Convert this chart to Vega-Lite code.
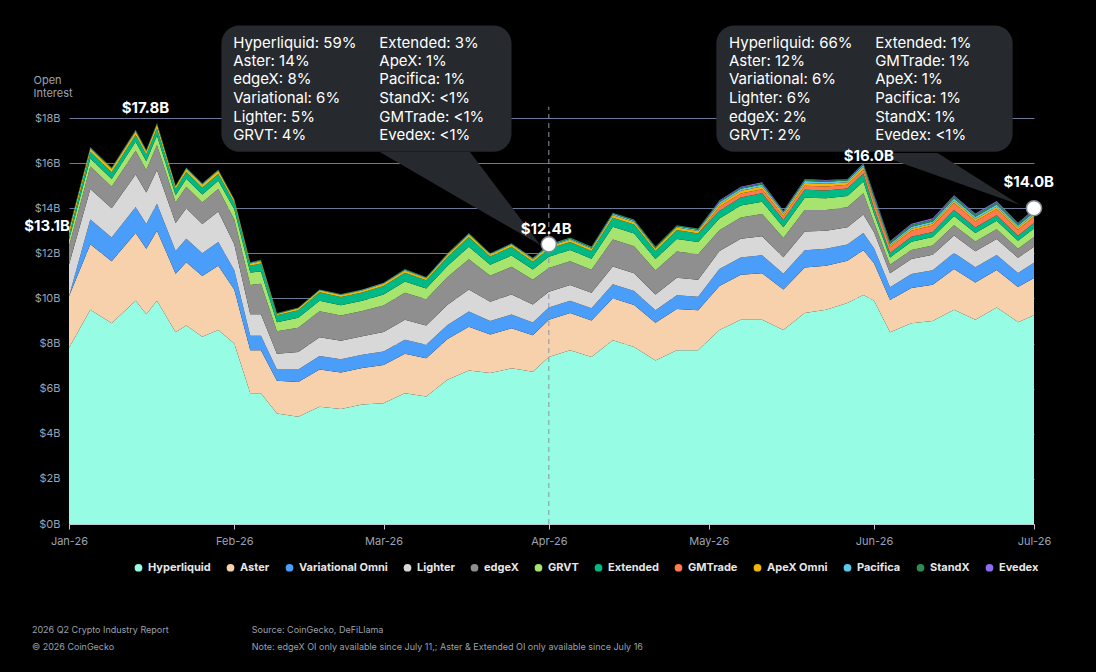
{
"$schema":"https://vega.github.io/schema/vega-lite/v6.json",
"width":965,"height":406,
"autosize":{"type":"none"},
"padding":{"left":69,"top":118,"right":62,"bottom":148},
"background":"#000000",
"config":{"view":{"stroke":null},"font":"Inter"},
"datasets":{
"oi":[
{"t":"2026-01-01T00:00","a":7.8,"b":2.3,"c":0,"d":1.4,"e":0.8,"f":0.3,"g":0.2,"h":0,"i":0.2,"j":0.05,"k":0.05,"l":0},
{"t":"2026-01-05T00:00","a":9.5,"b":2.9,"c":1.1,"d":1.35,"e":1.0,"f":0.35,"g":0.3,"h":0,"i":0.15,"j":0.03,"k":0.03,"l":0},
{"t":"2026-01-09T00:00","a":8.9,"b":2.75,"c":1.05,"d":1.3,"e":0.95,"f":0.35,"g":0.3,"h":0,"i":0.14,"j":0.03,"k":0.03,"l":0},
{"t":"2026-01-13T12:00","a":9.9,"b":3.0,"c":1.15,"d":1.45,"e":1.05,"f":0.4,"g":0.3,"h":0,"i":0.15,"j":0.04,"k":0.04,"l":0},
{"t":"2026-01-15T12:00","a":9.3,"b":2.9,"c":1.1,"d":1.4,"e":1.0,"f":0.38,"g":0.3,"h":0,"i":0.15,"j":0.03,"k":0.03,"l":0},
{"t":"2026-01-17T12:00","a":9.9,"b":3.1,"c":1.2,"d":1.5,"e":1.1,"f":0.42,"g":0.32,"h":0,"i":0.17,"j":0.04,"k":0.04,"l":0},
{"t":"2026-01-21T00:00","a":8.5,"b":2.6,"c":1.0,"d":1.25,"e":0.9,"f":0.33,"g":0.27,"h":0,"i":0.12,"j":0.02,"k":0.02,"l":0},
{"t":"2026-01-23T00:00","a":8.8,"b":2.8,"c":1.05,"d":1.35,"e":0.95,"f":0.36,"g":0.3,"h":0,"i":0.14,"j":0.03,"k":0.03,"l":0},
{"t":"2026-01-26T00:00","a":8.3,"b":2.7,"c":1.0,"d":1.3,"e":0.95,"f":0.36,"g":0.3,"h":0,"i":0.14,"j":0.03,"k":0.03,"l":0},
{"t":"2026-01-29T00:00","a":8.6,"b":2.85,"c":1.05,"d":1.35,"e":1.0,"f":0.37,"g":0.3,"h":0,"i":0.14,"j":0.03,"k":0.03,"l":0},
{"t":"2026-02-01T00:00","a":8.0,"b":2.4,"c":0.85,"d":1.15,"e":1.1,"f":0.45,"g":0.3,"h":0,"i":0.12,"j":0.02,"k":0.02,"l":0},
{"t":"2026-02-04T00:00","a":5.8,"b":1.9,"c":0.65,"d":0.95,"e":1.3,"f":0.55,"g":0.3,"h":0,"i":0.1,"j":0.03,"k":0.03,"l":0},
{"t":"2026-02-06T00:00","a":5.8,"b":1.9,"c":0.65,"d":0.95,"e":1.35,"f":0.55,"g":0.35,"h":0,"i":0.1,"j":0.03,"k":0.03,"l":0},
{"t":"2026-02-09T00:00","a":4.9,"b":1.45,"c":0.5,"d":0.7,"e":1.0,"f":0.4,"g":0.3,"h":0,"i":0.06,"j":0.02,"k":0.02,"l":0},
{"t":"2026-02-13T00:00","a":4.75,"b":1.55,"c":0.55,"d":0.78,"e":1.07,"f":0.44,"g":0.34,"h":0,"i":0.08,"j":0.02,"k":0.02,"l":0},
{"t":"2026-02-17T00:00","a":5.2,"b":1.65,"c":0.6,"d":0.83,"e":1.15,"f":0.47,"g":0.37,"h":0,"i":0.09,"j":0.02,"k":0.02,"l":0},
{"t":"2026-02-21T00:00","a":5.1,"b":1.62,"c":0.58,"d":0.82,"e":1.12,"f":0.46,"g":0.36,"h":0,"i":0.09,"j":0.03,"k":0.02,"l":0},
{"t":"2026-02-25T00:00","a":5.3,"b":1.62,"c":0.58,"d":0.82,"e":1.12,"f":0.46,"g":0.36,"h":0,"i":0.09,"j":0.03,"k":0.02,"l":0},
{"t":"2026-03-01T00:00","a":5.35,"b":1.7,"c":0.6,"d":0.86,"e":1.18,"f":0.48,"g":0.38,"h":0,"i":0.1,"j":0.03,"k":0.02,"l":0},
{"t":"2026-03-05T00:00","a":5.8,"b":1.75,"c":0.62,"d":0.88,"e":1.2,"f":0.5,"g":0.39,"h":0,"i":0.1,"j":0.03,"k":0.03,"l":0},
{"t":"2026-03-09T00:00","a":5.65,"b":1.7,"c":0.6,"d":0.85,"e":1.16,"f":0.48,"g":0.37,"h":0,"i":0.09,"j":0.03,"k":0.02,"l":0},
{"t":"2026-03-13T00:00","a":6.4,"b":1.8,"c":0.62,"d":0.9,"e":1.23,"f":0.5,"g":0.39,"h":0,"i":0.1,"j":0.03,"k":0.03,"l":0},
{"t":"2026-03-17T00:00","a":6.8,"b":1.95,"c":0.67,"d":0.98,"e":1.34,"f":0.55,"g":0.43,"h":0,"i":0.12,"j":0.03,"k":0.03,"l":0},
{"t":"2026-03-21T00:00","a":6.7,"b":1.7,"c":0.6,"d":0.85,"e":1.16,"f":0.48,"g":0.37,"h":0,"i":0.09,"j":0.03,"k":0.02,"l":0},
{"t":"2026-03-25T00:00","a":6.9,"b":1.78,"c":0.61,"d":0.89,"e":1.22,"f":0.5,"g":0.39,"h":0,"i":0.1,"j":0.03,"k":0.03,"l":0},
{"t":"2026-03-29T00:00","a":6.75,"b":1.62,"c":0.56,"d":0.8,"e":1.1,"f":0.45,"g":0.35,"h":0,"i":0.1,"j":0.04,"k":0.03,"l":0},
{"t":"2026-04-01T00:00","a":7.4,"b":1.65,"c":0.55,"d":0.7,"e":1.05,"f":0.5,"g":0.35,"h":0,"i":0.1,"j":0.05,"k":0.05,"l":0},
{"t":"2026-04-05T00:00","a":7.7,"b":1.65,"c":0.55,"d":0.7,"e":1.05,"f":0.5,"g":0.35,"h":0,"i":0.1,"j":0.05,"k":0.05,"l":0},
{"t":"2026-04-09T00:00","a":7.4,"b":1.62,"c":0.54,"d":0.69,"e":1.02,"f":0.49,"g":0.34,"h":0,"i":0.1,"j":0.05,"k":0.05,"l":0},
{"t":"2026-04-13T00:00","a":8.15,"b":1.86,"c":0.62,"d":0.79,"e":1.19,"f":0.57,"g":0.4,"h":0,"i":0.11,"j":0.06,"k":0.05,"l":0},
{"t":"2026-04-17T00:00","a":7.85,"b":1.86,"c":0.62,"d":0.79,"e":1.19,"f":0.57,"g":0.4,"h":0,"i":0.11,"j":0.06,"k":0.05,"l":0},
{"t":"2026-04-21T00:00","a":7.25,"b":1.67,"c":0.56,"d":0.7,"e":1.06,"f":0.51,"g":0.35,"h":0,"i":0.1,"j":0.05,"k":0.05,"l":0},
{"t":"2026-04-25T00:00","a":7.7,"b":1.83,"c":0.61,"d":0.78,"e":1.16,"f":0.56,"g":0.39,"h":0,"i":0.11,"j":0.06,"k":0.05,"l":0},
{"t":"2026-04-29T00:00","a":7.7,"b":1.78,"c":0.6,"d":0.75,"e":1.13,"f":0.54,"g":0.38,"h":0,"i":0.11,"j":0.06,"k":0.05,"l":0},
{"t":"2026-05-03T00:00","a":8.6,"b":1.95,"c":0.75,"d":0.8,"e":0.92,"f":0.52,"g":0.35,"h":0.17,"i":0.12,"j":0.09,"k":0.05,"l":0.03},
{"t":"2026-05-07T00:00","a":9.05,"b":2.0,"c":0.77,"d":0.83,"e":0.94,"f":0.53,"g":0.35,"h":0.18,"i":0.12,"j":0.09,"k":0.06,"l":0.03},
{"t":"2026-05-11T00:00","a":9.05,"b":2.07,"c":0.79,"d":0.85,"e":0.98,"f":0.55,"g":0.37,"h":0.18,"i":0.12,"j":0.09,"k":0.06,"l":0.04},
{"t":"2026-05-15T00:00","a":8.6,"b":1.8,"c":0.69,"d":0.74,"e":0.85,"f":0.48,"g":0.32,"h":0.16,"i":0.11,"j":0.08,"k":0.05,"l":0.02},
{"t":"2026-05-19T00:00","a":9.35,"b":2.02,"c":0.77,"d":0.83,"e":0.95,"f":0.54,"g":0.36,"h":0.18,"i":0.12,"j":0.09,"k":0.06,"l":0.03},
{"t":"2026-05-23T00:00","a":9.5,"b":1.95,"c":0.75,"d":0.8,"e":0.92,"f":0.52,"g":0.35,"h":0.17,"i":0.12,"j":0.09,"k":0.05,"l":0.03},
{"t":"2026-05-27T00:00","a":9.8,"b":1.87,"c":0.72,"d":0.77,"e":0.88,"f":0.5,"g":0.33,"h":0.17,"i":0.11,"j":0.08,"k":0.05,"l":0.02},
{"t":"2026-05-30T00:00","a":10.15,"b":1.99,"c":0.76,"d":0.82,"e":0.94,"f":0.53,"g":0.35,"h":0.18,"i":0.12,"j":0.09,"k":0.05,"l":0.02},
{"t":"2026-06-01T00:00","a":9.9,"b":1.66,"c":0.67,"d":0.71,"e":0.43,"f":0.38,"g":0.24,"h":0.28,"i":0.1,"j":0.1,"k":0.1,"l":0.05},
{"t":"2026-06-04T00:00","a":8.5,"b":1.43,"c":0.57,"d":0.62,"e":0.37,"f":0.33,"g":0.2,"h":0.25,"i":0.08,"j":0.08,"k":0.08,"l":0.04},
{"t":"2026-06-08T00:00","a":8.9,"b":1.56,"c":0.62,"d":0.67,"e":0.4,"f":0.36,"g":0.22,"h":0.27,"i":0.09,"j":0.09,"k":0.09,"l":0.04},
{"t":"2026-06-12T00:00","a":9.0,"b":1.61,"c":0.64,"d":0.69,"e":0.41,"f":0.37,"g":0.23,"h":0.28,"i":0.09,"j":0.09,"k":0.09,"l":0.05},
{"t":"2026-06-16T00:00","a":9.5,"b":1.8,"c":0.72,"d":0.77,"e":0.46,"f":0.41,"g":0.26,"h":0.31,"i":0.1,"j":0.1,"k":0.1,"l":0.05},
{"t":"2026-06-20T00:00","a":9.05,"b":1.66,"c":0.67,"d":0.71,"e":0.43,"f":0.38,"g":0.24,"h":0.28,"i":0.1,"j":0.1,"k":0.1,"l":0.05},
{"t":"2026-06-24T00:00","a":9.6,"b":1.66,"c":0.67,"d":0.71,"e":0.43,"f":0.38,"g":0.24,"h":0.28,"i":0.1,"j":0.1,"k":0.1,"l":0.05},
{"t":"2026-06-28T00:00","a":8.95,"b":1.56,"c":0.62,"d":0.67,"e":0.4,"f":0.36,"g":0.22,"h":0.27,"i":0.09,"j":0.09,"k":0.09,"l":0.04},
{"t":"2026-07-01T00:00","a":9.25,"b":1.66,"c":0.67,"d":0.71,"e":0.43,"f":0.38,"g":0.24,"h":0.28,"i":0.1,"j":0.1,"k":0.1,"l":0.05}
],
"boxes":[
{"t":"2026-01-29T14:00","t2":"2026-03-25T00:00","v":22.1,"v2":16.5},
{"t":"2026-05-02T10:00","t2":"2026-06-27T00:00","v":22.1,"v2":16.5}
],
"pointers":[
{"p":1,"t":"2026-02-28T07:00","v":16.49,"v2":16.49},
{"p":1,"t":"2026-03-17T05:00","v":16.49,"v2":14.17},
{"p":1,"t":"2026-03-30T10:00","v":12.37,"v2":12.37},
{"p":2,"t":"2026-05-31T19:00","v":16.45,"v2":16.45},
{"p":2,"t":"2026-06-12T22:00","v":16.45,"v2":15.44},
{"p":2,"t":"2026-06-28T10:00","v":14.14,"v2":14.14}
],
"boxtext":[
{"t":"2026-01-31T19:00","v":21.32,"label":"Hyperliquid: 59%"},
{"t":"2026-01-31T19:00","v":20.52,"label":"Aster: 14%"},
{"t":"2026-01-31T19:00","v":19.73,"label":"edgeX: 8%"},
{"t":"2026-01-31T19:00","v":18.88,"label":"Variational: 6%"},
{"t":"2026-01-31T19:00","v":18.04,"label":"Lighter: 5%"},
{"t":"2026-01-31T19:00","v":17.24,"label":"GRVT: 4%"},
{"t":"2026-02-28T05:00","v":21.32,"label":"Extended: 3%"},
{"t":"2026-02-28T05:00","v":20.52,"label":"ApeX: 1%"},
{"t":"2026-02-28T05:00","v":19.73,"label":"Pacifica: 1%"},
{"t":"2026-02-28T05:00","v":18.88,"label":"StandX: <1%"},
{"t":"2026-02-28T05:00","v":18.04,"label":"GMTrade: <1%"},
{"t":"2026-02-28T05:00","v":17.24,"label":"Evedex: <1%"},
{"t":"2026-05-04T19:00","v":21.32,"label":"Hyperliquid: 66%"},
{"t":"2026-05-04T19:00","v":20.52,"label":"Aster: 12%"},
{"t":"2026-05-04T19:00","v":19.73,"label":"Variational: 6%"},
{"t":"2026-05-04T19:00","v":18.88,"label":"Lighter: 6%"},
{"t":"2026-05-04T19:00","v":18.04,"label":"edgeX: 2%"},
{"t":"2026-05-04T19:00","v":17.24,"label":"GRVT: 2%"},
{"t":"2026-06-01T05:00","v":21.32,"label":"Extended: 1%"},
{"t":"2026-06-01T05:00","v":20.52,"label":"GMTrade: 1%"},
{"t":"2026-06-01T05:00","v":19.73,"label":"ApeX: 1%"},
{"t":"2026-06-01T05:00","v":18.88,"label":"Pacifica: 1%"},
{"t":"2026-06-01T05:00","v":18.04,"label":"StandX: 1%"},
{"t":"2026-06-01T05:00","v":17.24,"label":"Evedex: <1%"}
],
"biglabels":[
{"t":"2026-01-15T08:00","v":18.44,"label":"$17.8B"},
{"t":"2026-03-31T12:00","v":13.1,"label":"$12.4B"},
{"t":"2026-05-31T00:00","v":16.3,"label":"$16.0B"},
{"t":"2026-06-30T00:00","v":15.16,"label":"$14.0B"}
],
"dots":[
{"t":"2026-04-01T00:00","v":12.4},
{"t":"2026-07-01T00:00","v":14.0}
],
"footer":[
{"t":"2025-12-25T01:00","v":-4.7,"label":"2026 Q2 Crypto Industry Report"},
{"t":"2025-12-25T01:00","v":-5.45,"label":"© 2026 CoinGecko"},
{"t":"2026-02-04T07:00","v":-4.7,"label":"Source: CoinGecko, DeFiLlama"},
{"t":"2026-02-04T07:00","v":-5.45,"label":"Note: edgeX OI only available since July 11,; Aster & Extended OI only available since July 16"}
]
},
"layer":[
{
"data":{"name":"oi"},
"transform":[{"fold":["a","b","c","d","e","f","g","h","i","j","k","l"],"as":["series","oi"]}],
"mark":{"type":"area","interpolate":"linear"},
"encoding":{
"x":{"field":"t","type":"temporal","scale":{"domain":["2026-01-01T00:00","2026-07-01T00:00"]},
"axis":{"format":"%b-%y","tickCount":{"interval":"month","step":1},"labelAlign":"center","labelFlush":false,"labelColor":"#9aa3b5","labelFontSize":11,"domainColor":"#c0c8d8","tickColor":"#c0c8d8","grid":false,"title":null,"labelPadding":6}},
"y":{"field":"oi","type":"quantitative","stack":"zero","scale":{"domain":[0,18]},
"axis":{"values":[0,2,4,6,8,10,12,14,16,18],"labelExpr":"'$' + datum.value + 'B'","labelColor":"#9aa3b5","labelFontSize":11,"domain":false,"ticks":false,"gridColor":"#6b7a99","gridWidth":1,"labelPadding":9,
"title":["Open","Interest"],"titleAngle":0,"titleAlign":"left","titleBaseline":"top","titleX":-36,"titleY":-44,"titleColor":"#9aa3b5","titleFontSize":11,"titleFontWeight":"normal"}},
"order":{"field":"series","type":"nominal","sort":"ascending"},
"color":{"field":"series","type":"nominal",
"scale":{"domain":["a","b","c","d","e","f","g","h","i","j","k","l"],"range":["#97FCE4","#F6D1AC","#4A9DF8","#D8D8D8","#8F8F8F","#A6E36F","#00B985","#FF7A50","#F2B705","#5CC9EC","#2E8B57","#8C6CF0"]},
"legend":{"orient":"none","legendX":64,"legendY":444,"direction":"horizontal","columns":12,"symbolType":"circle","symbolSize":60,"labelColor":"#e6e6e6","labelFontSize":11,"labelFontWeight":"bold","title":null,"columnPadding":14,
"labelExpr":"['Hyperliquid','Aster','Variational Omni','Lighter','edgeX','GRVT','Extended','GMTrade','ApeX Omni','Pacifica','StandX','Evedex'][indexof(['a','b','c','d','e','f','g','h','i','j','k','l'],datum.label)]"}}
}
},
{
"data":{"values":[{"t":"2026-04-01T00:00","v":0,"v2":18.5}]},
"mark":{"type":"rule","color":"#8a93a6","strokeDash":[5,4],"strokeWidth":1},
"encoding":{"x":{"field":"t","type":"temporal"},"y":{"field":"v","type":"quantitative"},"y2":{"field":"v2"}}
},
{
"data":{"name":"boxes"},
"mark":{"type":"rect","color":"#26292e","cornerRadius":18},
"encoding":{"x":{"field":"t","type":"temporal"},"x2":{"field":"t2"},"y":{"field":"v","type":"quantitative"},"y2":{"field":"v2"}}
},
{
"data":{"name":"pointers"},
"mark":{"type":"area","color":"#26292e","interpolate":"linear"},
"encoding":{"x":{"field":"t","type":"temporal"},"y":{"field":"v","type":"quantitative"},"y2":{"field":"v2"},"detail":{"field":"p"}}
},
{
"data":{"name":"boxtext"},
"mark":{"type":"text","align":"left","baseline":"middle","color":"#ffffff","fontSize":15},
"encoding":{"x":{"field":"t","type":"temporal"},"y":{"field":"v","type":"quantitative"},"text":{"field":"label"}}
},
{
"data":{"name":"dots"},
"mark":{"type":"point","filled":true,"fill":"#ffffff","stroke":"#7d8796","strokeWidth":1.5,"size":230,"opacity":1},
"encoding":{"x":{"field":"t","type":"temporal"},"y":{"field":"v","type":"quantitative"}}
},
{
"data":{"name":"biglabels"},
"mark":{"type":"text","align":"center","baseline":"middle","color":"#ffffff","fontSize":15,"fontWeight":"bold"},
"encoding":{"x":{"field":"t","type":"temporal"},"y":{"field":"v","type":"quantitative"},"text":{"field":"label"}}
},
{
"data":{"values":[{"t":"2026-01-01T00:00","v":13.2,"label":"$13.1B"}]},
"mark":{"type":"text","align":"right","baseline":"middle","color":"#ffffff","fontSize":15,"fontWeight":"bold","dx":1},
"encoding":{"x":{"field":"t","type":"temporal"},"y":{"field":"v","type":"quantitative"},"text":{"field":"label"}}
},
{
"data":{"name":"footer"},
"mark":{"type":"text","align":"left","baseline":"middle","color":"#9aa0aa","fontSize":9},
"encoding":{"x":{"field":"t","type":"temporal"},"y":{"field":"v","type":"quantitative"},"text":{"field":"label"}}
}
]
}
